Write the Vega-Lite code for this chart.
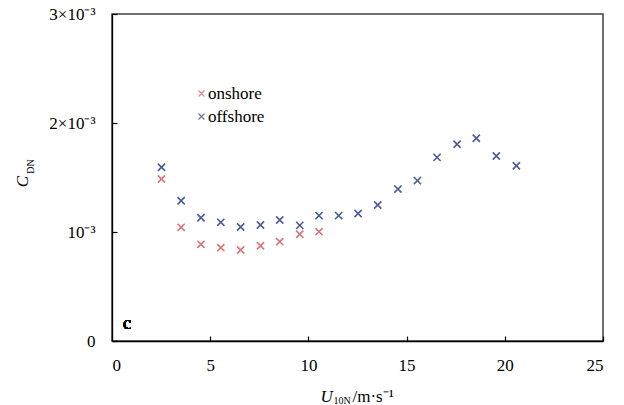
{
  "$schema": "https://vega.github.io/schema/vega-lite/v6.json",
  "width": 491,
  "height": 327,
  "autosize": {"type": "none"},
  "padding": {"left": 112, "top": 14, "right": 21, "bottom": 64},
  "config": {
    "font": "Liberation Serif",
    "view": {"stroke": "#404040", "strokeWidth": 1.5},
    "axis": {"labelFont": "Liberation Serif", "labelFontSize": 17, "labelColor": "#000", "titleFont": "Liberation Serif", "titleColor": "#000", "titleFontWeight": "normal", "grid": false, "domainColor": "#000", "domainWidth": 1.3, "tickColor": "#000", "tickWidth": 1.2}
  },
  "data": {"values": [
    {"wind": 2.52, "cdn": 0.001486, "site": "onshore"},
    {"wind": 3.52, "cdn": 0.001043, "site": "onshore"},
    {"wind": 4.53, "cdn": 0.000887, "site": "onshore"},
    {"wind": 5.54, "cdn": 0.000856, "site": "onshore"},
    {"wind": 6.55, "cdn": 0.000835, "site": "onshore"},
    {"wind": 7.56, "cdn": 0.000874, "site": "onshore"},
    {"wind": 8.54, "cdn": 0.000911, "site": "onshore"},
    {"wind": 9.56, "cdn": 0.000979, "site": "onshore"},
    {"wind": 10.54, "cdn": 0.001003, "site": "onshore"},
    {"wind": 2.52, "cdn": 0.001594, "site": "offshore"},
    {"wind": 3.52, "cdn": 0.001287, "site": "offshore"},
    {"wind": 4.53, "cdn": 0.001131, "site": "offshore"},
    {"wind": 5.54, "cdn": 0.001089, "site": "offshore"},
    {"wind": 6.55, "cdn": 0.001046, "site": "offshore"},
    {"wind": 7.56, "cdn": 0.001064, "site": "offshore"},
    {"wind": 8.54, "cdn": 0.00111, "site": "offshore"},
    {"wind": 9.56, "cdn": 0.001061, "site": "offshore"},
    {"wind": 10.54, "cdn": 0.00115, "site": "offshore"},
    {"wind": 11.54, "cdn": 0.00115, "site": "offshore"},
    {"wind": 12.53, "cdn": 0.00117, "site": "offshore"},
    {"wind": 13.53, "cdn": 0.001248, "site": "offshore"},
    {"wind": 14.56, "cdn": 0.001394, "site": "offshore"},
    {"wind": 15.55, "cdn": 0.001471, "site": "offshore"},
    {"wind": 16.55, "cdn": 0.001685, "site": "offshore"},
    {"wind": 17.57, "cdn": 0.001805, "site": "offshore"},
    {"wind": 18.55, "cdn": 0.00186, "site": "offshore"},
    {"wind": 19.57, "cdn": 0.001697, "site": "offshore"},
    {"wind": 20.59, "cdn": 0.001608, "site": "offshore"}
  ]},
  "layer": [
    {
      "mark": {"type": "point", "shape": "M-1,-1L1,1M1,-1L-1,1", "filled": false, "size": 52, "strokeWidth": 1.6, "opacity": 1},
      "encoding": {
        "x": {"field": "wind", "type": "quantitative", "scale": {"domain": [0, 25], "nice": false, "zero": false},
          "axis": {"orient": "bottom", "values": [0, 5, 10, 15, 20, 25], "tickSize": -5, "labelPadding": 21, "title": "U", "titleFontStyle": "italic", "titleFontSize": 17, "titleAlign": "left", "titleBaseline": "alphabetic", "titleX": 208, "titleY": 60, "titleAngle": 0}},
        "y": {"field": "cdn", "type": "quantitative", "scale": {"domain": [0, 0.003], "nice": false, "zero": false},
          "axis": {"orient": "left", "values": [0, 0.001, 0.002, 0.003], "tickSize": -5, "labelPadding": 22,
            "labelExpr": "round(datum.value*1000) == 0 ? '0' : round(datum.value*1000) == 1 ? '10⁻³' : round(datum.value*1000) + '×10⁻³'",
            "title": "C", "titleFontStyle": "italic", "titleFontSize": 17, "titleAngle": -90, "titleAlign": "center", "titleBaseline": "alphabetic", "titleX": -85, "titleY": 167}},
        "color": {"field": "site", "type": "nominal", "scale": {"domain": ["onshore", "offshore"], "range": ["#d7747c", "#4b5b98"]},
          "legend": {"orient": "none", "legendX": 81, "legendY": 71, "title": null, "padding": 0, "labelFontSize": 17, "labelFont": "Liberation Serif", "labelColor": "#000", "labelOffset": -2, "rowPadding": 5, "symbolSize": 36, "symbolStrokeWidth": 1.3, "symbolOpacity": 0.8}}
      }
    },
    {
      "mark": {"type": "point", "opacity": 0},
      "encoding": {
        "x": {"field": "wind", "type": "quantitative", "scale": {"domain": [0, 25], "nice": false, "zero": false},
          "axis": {"orient": "bottom", "domain": false, "ticks": false, "labels": false, "title": "10N", "titleFontSize": 10, "titleAlign": "left", "titleBaseline": "alphabetic", "titleX": 221, "titleY": 62, "titleAngle": 0}},
        "y": {"field": "cdn", "type": "quantitative", "scale": {"domain": [0, 0.003], "nice": false, "zero": false},
          "axis": {"orient": "left", "domain": false, "ticks": false, "labels": false, "title": "DN", "titleFontSize": 10, "titleAngle": -90, "titleAlign": "center", "titleBaseline": "alphabetic", "titleX": -79, "titleY": 152}}
      }
    },
    {
      "mark": {"type": "point", "opacity": 0},
      "encoding": {
        "x": {"field": "wind", "type": "quantitative", "scale": {"domain": [0, 25], "nice": false, "zero": false},
          "axis": {"orient": "bottom", "domain": false, "ticks": false, "labels": false, "title": "/m·s⁻¹", "titleFontSize": 17, "titleAlign": "left", "titleBaseline": "alphabetic", "titleX": 240, "titleY": 60, "titleAngle": 0}},
        "y": {"field": "cdn", "type": "quantitative", "axis": null}
      }
    },
    {
      "mark": {"type": "text", "text": "c", "font": "Liberation Serif", "fontSize": 18, "fontWeight": "normal", "baseline": "middle", "align": "center", "color": "#000"},
      "encoding": {
        "x": {"datum": 0.77, "type": "quantitative", "axis": null},
        "y": {"datum": 0.000156, "type": "quantitative", "axis": null}
      }
    }
  ],
  "resolve": {"axis": {"x": "independent", "y": "independent"}}
}
